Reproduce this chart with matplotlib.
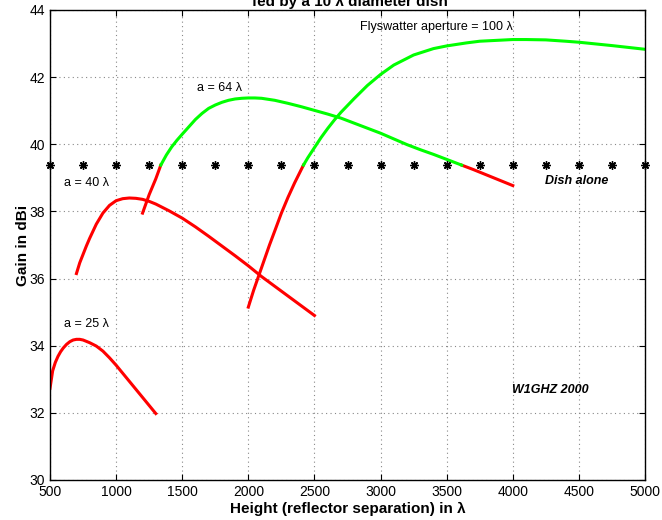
import numpy as np
import matplotlib
matplotlib.use("Agg")
import matplotlib.pyplot as plt

plt.rcParams["font.family"] = ["Liberation Sans", "DejaVu Sans"]

# gain of the dish alone, dBi
dish_gain = 39.38
dish_x = [500, 750, 1000, 1250, 1500, 1750, 2000, 2250, 2500, 2750, 3000,
          3250, 3500, 3750, 4000, 4250, 4500, 4750, 5000]

# flyswatter curves (height in lambda, gain in dBi)
h25 = [500, 520, 540, 560, 580, 600, 625, 650, 675, 700, 725, 750, 800, 850, 900,
       950, 1000, 1050, 1100, 1150, 1200, 1250, 1300]
g25 = [32.73, 33.25, 33.5, 33.68, 33.82, 33.93, 34.04, 34.12, 34.17, 34.19, 34.19,
       34.17, 34.09, 33.99, 33.84, 33.64, 33.42, 33.18, 32.94, 32.7, 32.46, 32.22,
       31.98]

h40 = [700, 725, 750, 775, 800, 850, 900, 950, 1000, 1050, 1100, 1150, 1200, 1250,
       1300, 1400, 1500, 1600, 1700, 1800, 1900, 2000, 2100, 2200, 2300, 2400, 2500]
g40 = [36.15, 36.47, 36.72, 36.97, 37.2, 37.62, 37.95, 38.18, 38.32, 38.38, 38.4,
       38.39, 38.36, 38.3, 38.22, 38.02, 37.8, 37.54, 37.26, 36.97, 36.68, 36.38,
       36.06, 35.77, 35.48, 35.19, 34.9]

h64 = [1200, 1250, 1300, 1338, 1380, 1420, 1460, 1500, 1550, 1600, 1650, 1700, 1750,
       1800, 1850, 1900, 1950, 2000, 2050, 2100, 2200, 2300, 2400, 2500, 2600, 2700,
       2800, 2900, 3000, 3100, 3200, 3300, 3400, 3500, 3613, 3700, 3800, 3900, 4000]
g64 = [37.95, 38.5, 38.97, 39.38, 39.68, 39.92, 40.12, 40.3, 40.52, 40.74, 40.92,
       41.07, 41.17, 41.25, 41.31, 41.35, 41.37, 41.38, 41.38, 41.37, 41.31, 41.22,
       41.12, 41.01, 40.9, 40.78, 40.63, 40.48, 40.33, 40.16, 39.99, 39.84, 39.7,
       39.55, 39.38, 39.25, 39.09, 38.93, 38.77]

h100 = [2000, 2040, 2080, 2120, 2160, 2200, 2250, 2300, 2350, 2417, 2450, 2500, 2550,
        2600, 2650, 2700, 2800, 2900, 3000, 3100, 3250, 3400, 3500, 3650, 3750, 3900,
        4000, 4100, 4250, 4400, 4500, 4750, 5000]
g100 = [35.15, 35.65, 36.1, 36.55, 37.0, 37.42, 37.95, 38.42, 38.85, 39.38, 39.6,
        39.9, 40.2, 40.47, 40.72, 40.95, 41.36, 41.75, 42.08, 42.36, 42.66, 42.85,
        42.93, 43.02, 43.07, 43.1, 43.12, 43.12, 43.11, 43.07, 43.04, 42.94, 42.83]


def plot_curve(ax, h, g):
    h = np.array(h, dtype=float)
    g = np.array(g, dtype=float)
    red = np.where(g <= dish_gain + 1e-6, g, np.nan)
    green = np.where(g >= dish_gain - 1e-6, g, np.nan)
    ax.plot(h, red, color="#ff0000", lw=2.2, solid_joinstyle="round")
    ax.plot(h, green, color="#00ff00", lw=2.2, solid_joinstyle="round")


fig = plt.figure(figsize=(6.62, 5.2), dpi=100)
ax = fig.add_axes([50 / 662, 40 / 520, 595 / 662, 470 / 520])

for h, g in [(h25, g25), (h40, g40), (h64, g64), (h100, g100)]:
    plot_curve(ax, h, g)

ax.plot(dish_x, [dish_gain] * len(dish_x), ls="none", marker=(8, 2, 0),
        color="black", ms=6, mew=1.0, clip_on=False)

ax.set_xlim(500, 5000)
ax.set_ylim(30, 44)
ax.set_xticks(np.arange(500, 5001, 500))
ax.set_yticks(np.arange(30, 45, 2))
ax.grid(True, ls=(0, (1, 3)), color="#888888", lw=0.8)
ax.tick_params(direction="in", top=True, right=True, labelsize=10, length=4)
for s in ax.spines.values():
    s.set_linewidth(1.0)

ax.set_xlabel("Height (reflector separation) in λ", fontsize=11, fontweight="bold",
              labelpad=2)
ax.set_ylabel("Gain in dBi", fontsize=11, fontweight="bold", labelpad=0)

ax.text(2844, 43.49, "Flyswatter aperture = 100 λ", fontsize=9, va="center")
ax.text(1611, 41.68, "a = 64 λ", fontsize=9, va="center")
ax.text(606, 38.85, "a = 40 λ", fontsize=9, va="center")
ax.text(606, 34.65, "a = 25 λ", fontsize=9, va="center")
ax.text(4242, 38.9, "Dish alone", fontsize=9, fontweight="bold", style="italic",
        va="center")
ax.text(3993, 32.68, "W1GHZ 2000", fontsize=9, fontweight="bold", style="italic",
        va="center")

fig.text(350 / 662, 1 - 6 / 520, "fed by a 10 λ diameter dish", fontsize=11,
         fontweight="bold", ha="center", va="baseline")

fig.savefig("out.png", dpi=100)
